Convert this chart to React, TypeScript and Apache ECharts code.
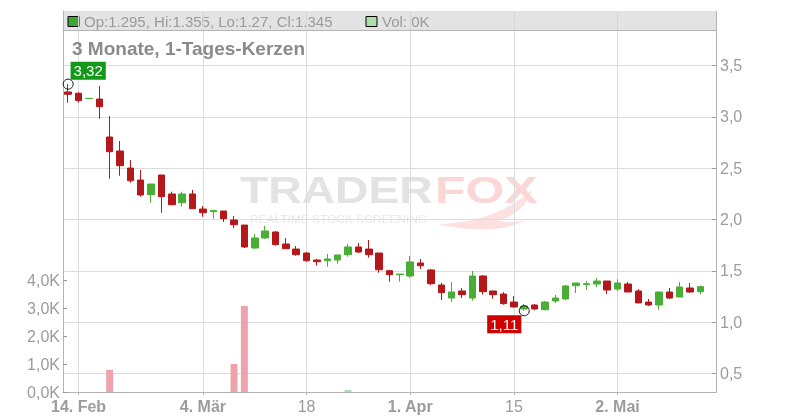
import React, { useEffect, useRef } from 'react';
import * as echarts from 'echarts';

const FONT = '"Liberation Sans", Arial, Helvetica, sans-serif';

// Trading days (category axis); the last one is an empty slot
const dates = [
  '2019-02-13', '2019-02-14', '2019-02-15', '2019-02-18', '2019-02-19', '2019-02-20', '2019-02-21', '2019-02-22',
  '2019-02-25', '2019-02-26', '2019-02-27', '2019-02-28', '2019-03-01', '2019-03-04', '2019-03-05', '2019-03-06',
  '2019-03-07', '2019-03-08', '2019-03-11', '2019-03-12', '2019-03-13', '2019-03-14', '2019-03-15', '2019-03-18',
  '2019-03-19', '2019-03-20', '2019-03-21', '2019-03-22', '2019-03-25', '2019-03-26', '2019-03-27', '2019-03-28',
  '2019-03-29', '2019-04-01', '2019-04-02', '2019-04-03', '2019-04-04', '2019-04-05', '2019-04-08', '2019-04-09',
  '2019-04-10', '2019-04-11', '2019-04-12', '2019-04-15', '2019-04-16', '2019-04-17', '2019-04-18', '2019-04-23',
  '2019-04-24', '2019-04-25', '2019-04-26', '2019-04-29', '2019-04-30', '2019-05-02', '2019-05-03', '2019-05-06',
  '2019-05-07', '2019-05-08', '2019-05-09', '2019-05-10', '2019-05-13', '2019-05-14', '2019-05-15',
];

const tickDates = ['2019-02-14', '2019-03-04', '2019-03-18', '2019-04-01', '2019-04-15', '2019-05-02'];
const tickTexts = ['14. Feb', '4. Mär', '18', '1. Apr', '15', '2. Mai'];

const open = [
  3.244, 3.231, 3.18, 3.175, 2.805, 2.668, 2.502, 2.385, 2.242, 2.434, 2.249, 2.164, 2.249, 2.102, 2.076, 2.083,
  1.995, 1.946, 1.722, 1.82, 1.878, 1.761, 1.712, 1.673, 1.605, 1.598, 1.605, 1.657, 1.732, 1.712, 1.673, 1.501,
  1.462, 1.449, 1.576, 1.508, 1.361, 1.234, 1.303, 1.234, 1.449, 1.303, 1.273, 1.195, 1.127, 1.166, 1.12, 1.205,
  1.225, 1.354, 1.366, 1.371, 1.4, 1.322, 1.371, 1.303, 1.195, 1.166, 1.293, 1.244, 1.332, 1.295,
];
const high = [
  3.32, 3.244, 3.182, 3.302, 3.01, 2.766, 2.58, 2.483, 2.346, 2.434, 2.271, 2.271, 2.288, 2.132, 2.089, 2.083,
  2.034, 1.946, 1.859, 1.937, 1.888, 1.82, 1.742, 1.683, 1.615, 1.664, 1.654, 1.761, 1.771, 1.8, 1.673, 1.501,
  1.468, 1.644, 1.615, 1.517, 1.381, 1.39, 1.332, 1.498, 1.459, 1.303, 1.293, 1.254, 1.176, 1.176, 1.205, 1.264,
  1.361, 1.381, 1.4, 1.429, 1.4, 1.417, 1.39, 1.322, 1.225, 1.293, 1.332, 1.39, 1.381, 1.355,
];
const low = [
  3.139, 3.139, 3.18, 2.983, 2.398, 2.427, 2.359, 2.222, 2.164, 2.066, 2.144, 2.125, 2.105, 2.027, 2.008, 1.976,
  1.917, 1.722, 1.712, 1.81, 1.745, 1.715, 1.647, 1.588, 1.55, 1.54, 1.569, 1.637, 1.673, 1.628, 1.481, 1.393,
  1.393, 1.432, 1.517, 1.361, 1.215, 1.195, 1.234, 1.208, 1.267, 1.228, 1.169, 1.14, 1.11, 1.115, 1.115, 1.186,
  1.215, 1.283, 1.312, 1.342, 1.273, 1.303, 1.293, 1.186, 1.156, 1.12, 1.225, 1.244, 1.283, 1.27,
];
const close = [
  3.221, 3.16, 3.182, 3.1, 2.661, 2.525, 2.378, 2.239, 2.346, 2.222, 2.144, 2.249, 2.105, 2.066, 2.089, 2.008,
  1.949, 1.732, 1.82, 1.888, 1.755, 1.715, 1.657, 1.598, 1.588, 1.615, 1.654, 1.732, 1.683, 1.657, 1.51, 1.462,
  1.468, 1.586, 1.549, 1.374, 1.286, 1.293, 1.267, 1.449, 1.296, 1.267, 1.179, 1.147, 1.156, 1.127, 1.195, 1.234,
  1.352, 1.381, 1.373, 1.4, 1.312, 1.381, 1.293, 1.186, 1.166, 1.293, 1.234, 1.342, 1.293, 1.345,
];
const volume = [
  0, 0, 0, 0, 790, 0, 0, 0, 0, 0, 0, 0, 0, 0, 0, 0,
  1000, 3070, 0, 0, 0, 0, 0, 0, 0, 0, 0, 70, 0, 0, 0, 0,
  0, 0, 0, 0, 0, 0, 0, 0, 0, 0, 0, 0, 0, 0, 0, 0,
  0, 0, 0, 0, 0, 0, 0, 0, 0, 0, 0, 0, 0, 0,
];

const PRICE_MIN = 0.3176;
const PRICE_MAX = 3.8483;

const UP = '#4aad36';
const DOWN = '#b5181b';
const GRID_LINE = '#dcdcdc';
const AXIS_LINE = '#b4b4b4';
const LABEL = '#9c9c9c';

const isTick = (_i: number, v: string) => tickDates.indexOf(v) >= 0;
const comma = (v: number, d: number) => v.toFixed(d).replace('.', ',');

const SWOOSH =
  'M437 224 C472 224 508 212 532 190 C527 207 512 217 498 221 C510 223 520 222 527 219 C508 232 470 232 437 224 Z';

const hiddenValueAxis = (gridIndex: number, position: string) => ({
  type: 'value',
  gridIndex,
  position,
  min: 0,
  max: 1,
  axisLine: { show: true, onZero: false, lineStyle: { color: AXIS_LINE } },
  axisTick: { show: false },
  axisLabel: { show: false },
  splitLine: { show: false },
});

export default function App() {
  const ref = useRef<HTMLDivElement>(null);
  useEffect(() => {
    try {
      echarts.graphic.registerShape('foxtail', echarts.graphic.extendPath(SWOOSH, {}) as any);
    } catch (e) {
      /* ignore */
    }
    const chart = echarts.init(ref.current!, null, { renderer: 'svg' });
    const candles = dates.slice(0, open.length).map((_, i) => [open[i], close[i], low[i], high[i]]);
    const option: any = {
      animation: false,
      textStyle: { fontFamily: FONT },
      grid: [
        { left: 63, right: 84, top: 30, height: 362 },
        { left: 63, right: 84, top: 280, height: 112 },
        { left: 63, right: 84, top: 11, height: 19, show: true, backgroundColor: '#e3e3e3', borderWidth: 0 },
      ],
      xAxis: [
        {
          type: 'category',
          gridIndex: 0,
          data: dates,
          boundaryGap: true,
          axisLine: { show: true, lineStyle: { color: AXIS_LINE } },
          axisTick: { show: true, alignWithLabel: true, interval: isTick, length: 3, lineStyle: { color: AXIS_LINE } },
          axisLabel: {
            interval: isTick,
            margin: 6,
            formatter: (v: string) => {
              const t = tickTexts[tickDates.indexOf(v)] || '';
              return t.indexOf(' ') >= 0 ? '{b|' + t + '}' : '{n|' + t + '}';
            },
            rich: {
              b: { fontSize: 16, fontWeight: 'bold', color: LABEL, fontFamily: FONT },
              n: { fontSize: 16, color: LABEL, fontFamily: FONT },
            },
          },
          splitLine: { show: true, interval: isTick, alignWithLabel: true, lineStyle: { color: GRID_LINE } },
        },
        { type: 'category', gridIndex: 1, data: dates, boundaryGap: true, show: false },
        {
          type: 'category',
          gridIndex: 2,
          data: dates,
          boundaryGap: true,
          position: 'top',
          axisLine: { show: true, lineStyle: { color: AXIS_LINE } },
          axisTick: { show: false },
          axisLabel: { show: false },
          splitLine: { show: true, interval: isTick, alignWithLabel: true, lineStyle: { color: '#d6d6d6' } },
        },
      ],
      yAxis: [
        {
          type: 'value',
          gridIndex: 0,
          position: 'right',
          min: PRICE_MIN,
          max: PRICE_MAX,
          splitNumber: 7,
          minInterval: 0.5,
          maxInterval: 0.5,
          axisLine: { show: true, lineStyle: { color: AXIS_LINE } },
          axisTick: { show: true, inside: true, length: 4, lineStyle: { color: '#999' } },
          axisLabel: {
            color: LABEL,
            fontSize: 16,
            margin: 4,
            showMinLabel: false,
            showMaxLabel: false,
            formatter: (v: number) => {
              const r = Math.round(v * 2) / 2;
              if (Math.abs(v - r) > 0.001) return '';
              return comma(v, 1);
            },
          },
          splitLine: { show: true, lineStyle: { color: GRID_LINE } },
        },
        {
          type: 'value',
          gridIndex: 1,
          position: 'left',
          min: 0,
          max: 4000,
          interval: 1000,
          axisLine: { show: true, lineStyle: { color: AXIS_LINE } },
          axisTick: { show: true, inside: true, length: 4, lineStyle: { color: '#999' } },
          axisLabel: { color: LABEL, fontSize: 16, margin: 3, formatter: (v: number) => comma(v / 1000, 1) + 'K' },
          splitLine: { show: false },
        },
        hiddenValueAxis(0, 'left'),
        hiddenValueAxis(2, 'left'),
        hiddenValueAxis(2, 'right'),
      ],
      series: [
        {
          type: 'bar',
          xAxisIndex: 1,
          yAxisIndex: 1,
          data: volume,
          barWidth: 7,
          itemStyle: {
            color: (p: any) => (close[p.dataIndex] >= open[p.dataIndex] ? '#a9dea9' : '#eea3ac'),
          },
          z: 1,
        },
        {
          type: 'candlestick',
          xAxisIndex: 0,
          yAxisIndex: 0,
          data: candles,
          barWidth: 7,
          itemStyle: { color: UP, color0: DOWN, borderColor: UP, borderColor0: DOWN, borderWidth: 1 },
          z: 3,
          markPoint: {
            symbol: 'circle',
            symbolSize: 10,
            itemStyle: { color: 'rgba(255,255,255,0)', borderColor: '#111', borderWidth: 1 },
            data: [
              {
                type: 'max',
                valueDim: 'highest',
                label: {
                  show: true,
                  position: 'inside',
                  offset: [20, -13.5],
                  color: '#fff',
                  fontSize: 15,
                  backgroundColor: '#13991a',
                  padding: [2, 3, 1, 3],
                  formatter: (p: any) => comma(Number(p.value), 2),
                },
              },
              {
                type: 'min',
                valueDim: 'lowest',
                label: {
                  show: true,
                  position: 'inside',
                  offset: [-20, 13.6],
                  color: '#fff',
                  fontSize: 15,
                  backgroundColor: '#cf0000',
                  padding: [2, 3, 1, 3],
                  formatter: (p: any) => comma(Number(p.value), 2),
                },
              },
            ],
          },
        },
      ],
      graphic: [
        {
          type: 'group',
          z: -10,
          silent: true,
          children: [
            {
              type: 'text',
              x: 240,
              y: 190,
              scaleX: 1.25,
              style: { text: 'TRADER', x: 0, y: 0, fill: '#e3e3e3', font: 'bold 37px ' + FONT, verticalAlign: 'middle' },
            },
            { type: 'foxtail', style: { fill: '#fde0e0' } },
            {
              type: 'text',
              x: 435,
              y: 190,
              scaleX: 1.35,
              style: { text: 'FOX', x: 0, y: 0, fill: '#fbd6d6', font: 'bold 37px ' + FONT, verticalAlign: 'middle' },
            },
            {
              type: 'text',
              x: 250,
              y: 219,
              scaleX: 1.085,
              style: {
                text: 'REALTIME STOCK SCREENING',
                x: 0,
                y: 0,
                fill: '#e8e8e8',
                font: '11px ' + FONT,
                verticalAlign: 'middle',
              },
            },
          ],
        },
        {
          type: 'group',
          z: 100,
          children: [
            {
              type: 'rect',
              shape: { x: 68, y: 16.5, width: 11, height: 10 },
              style: { fill: '#3fa535', stroke: '#000', lineWidth: 1 },
            },
            {
              type: 'text',
              x: 84,
              y: 21,
              style: {
                text: 'Op:1.295, Hi:1.355, Lo:1.27, Cl:1.345',
                fill: '#9a9a9a',
                font: '15px ' + FONT,
                verticalAlign: 'middle',
              },
            },
            {
              type: 'rect',
              shape: { x: 366, y: 16.5, width: 11, height: 10 },
              style: { fill: '#addfad', stroke: '#000', lineWidth: 1 },
            },
            {
              type: 'text',
              x: 382,
              y: 21,
              style: { text: 'Vol: 0K', fill: '#9a9a9a', font: '15px ' + FONT, verticalAlign: 'middle' },
            },
          ],
        },
        {
          type: 'text',
          x: 72,
          y: 48,
          z: 100,
          style: {
            text: '3 Monate, 1-Tages-Kerzen',
            fill: '#8a8a8a',
            font: 'bold 19px ' + FONT,
            verticalAlign: 'middle',
          },
        },
      ],
    };
    chart.setOption(option);
    return () => chart.dispose();
  }, []);
  return <div ref={ref} style={{ position: 'fixed', left: 0, top: 0, width: 800, height: 420 }} />;
}
